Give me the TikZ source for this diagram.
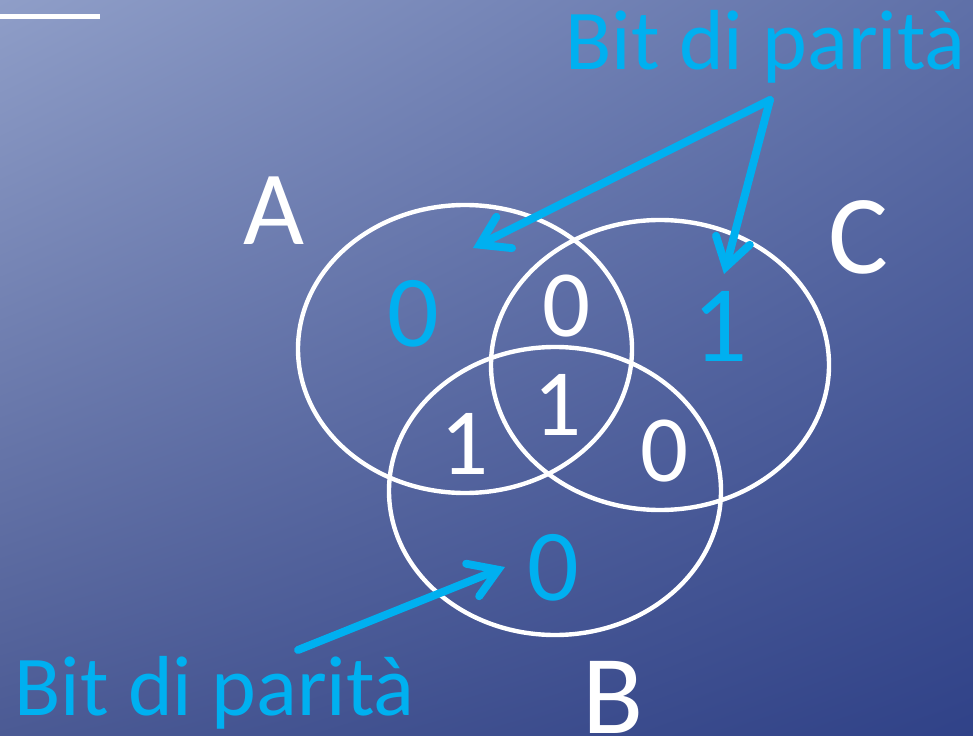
\documentclass[tikz,border=0pt]{standalone}
\usepackage{fontspec}
\setmainfont{Carlito}
\usetikzlibrary{arrows.meta, shadings}

\definecolor{parity}{RGB}{0,176,240}
\definecolor{bgUL}{RGB}{143,158,200}
\definecolor{bgUR}{RGB}{95,112,168}
\definecolor{bgLL}{RGB}{75,90,148}
\definecolor{bgLR}{RGB}{48,66,136}

\begin{document}
\begin{tikzpicture}[
    x=0.02cm, y=-0.02cm,
    set/.style={draw=white, line width=2.5pt},
    setname/.style={text=white, inner sep=0pt, anchor=base west, font=\fontsize{60}{64}\selectfont},
    databit/.style={text=white, inner sep=0pt, font=\fontsize{54}{60}\selectfont},
    paritybit/.style={text=parity, inner sep=0pt, font=\fontsize{58}{64}\selectfont},
    label/.style={text=parity, inner sep=0pt, anchor=base west, font=\fontsize{48.5}{52}\selectfont},
    arr/.style={-{Straight Barb[length=0.55cm, width=0.7cm, line cap=round]}, draw=parity, line width=4.5pt, line cap=round}
]
    % background
    \shade[upper left=bgUL, upper right=bgUR, lower left=bgLL, lower right=bgLR]
        (0,0) rectangle (973,736);
    \useasboundingbox (0,0) rectangle (973,736);
    \fill[white] (0,14) rectangle (100,19);

    % sets
    \draw[set] (465,349) ellipse [x radius=167, y radius=144];
    \draw[set] (660,365) ellipse [x radius=169, y radius=145];
    \draw[set] (555,491) ellipse [x radius=166, y radius=144];

    \node[setname] (nameA) at (243,245) {A};
    \node[setname, font=\fontsize{64}{68}\selectfont] (nameC) at (828,274) {C};
    \node[setname, font=\fontsize{64}{68}\selectfont] (nameB) at (582,733) {B};

    % bits
    \node[paritybit] (pA)  at (413,314) {0};
    \node[paritybit, font=\fontsize{62}{66}\selectfont] (pC) at (720,326) {1};
    \node[paritybit] (pB)  at (553,568) {0};
    \node[databit]   (dAC) at (567,306) {0};
    \node[databit]   (dABC) at (558,405) {1};
    \node[databit]   (dAB) at (465,444) {1};
    \node[databit]   (dBC) at (665,451) {0};

    % labels
    \node[label] (topLabel) at (565,70) {Bit di parità};
    \node[label] (botLabel) at (14,715) {Bit di parità};

    \coordinate (fork) at (770,100);
    \coordinate (tipA) at (473,248);
    \coordinate (tipC) at (724,274);
    \coordinate (tail) at (298,650);
    \coordinate (tipB) at (505,567);

    \draw[arr] (fork) -- (tipA);
    \draw[arr] (fork) -- (tipC);
    \draw[arr] (tail) -- (tipB);
\end{tikzpicture}
\end{document}
